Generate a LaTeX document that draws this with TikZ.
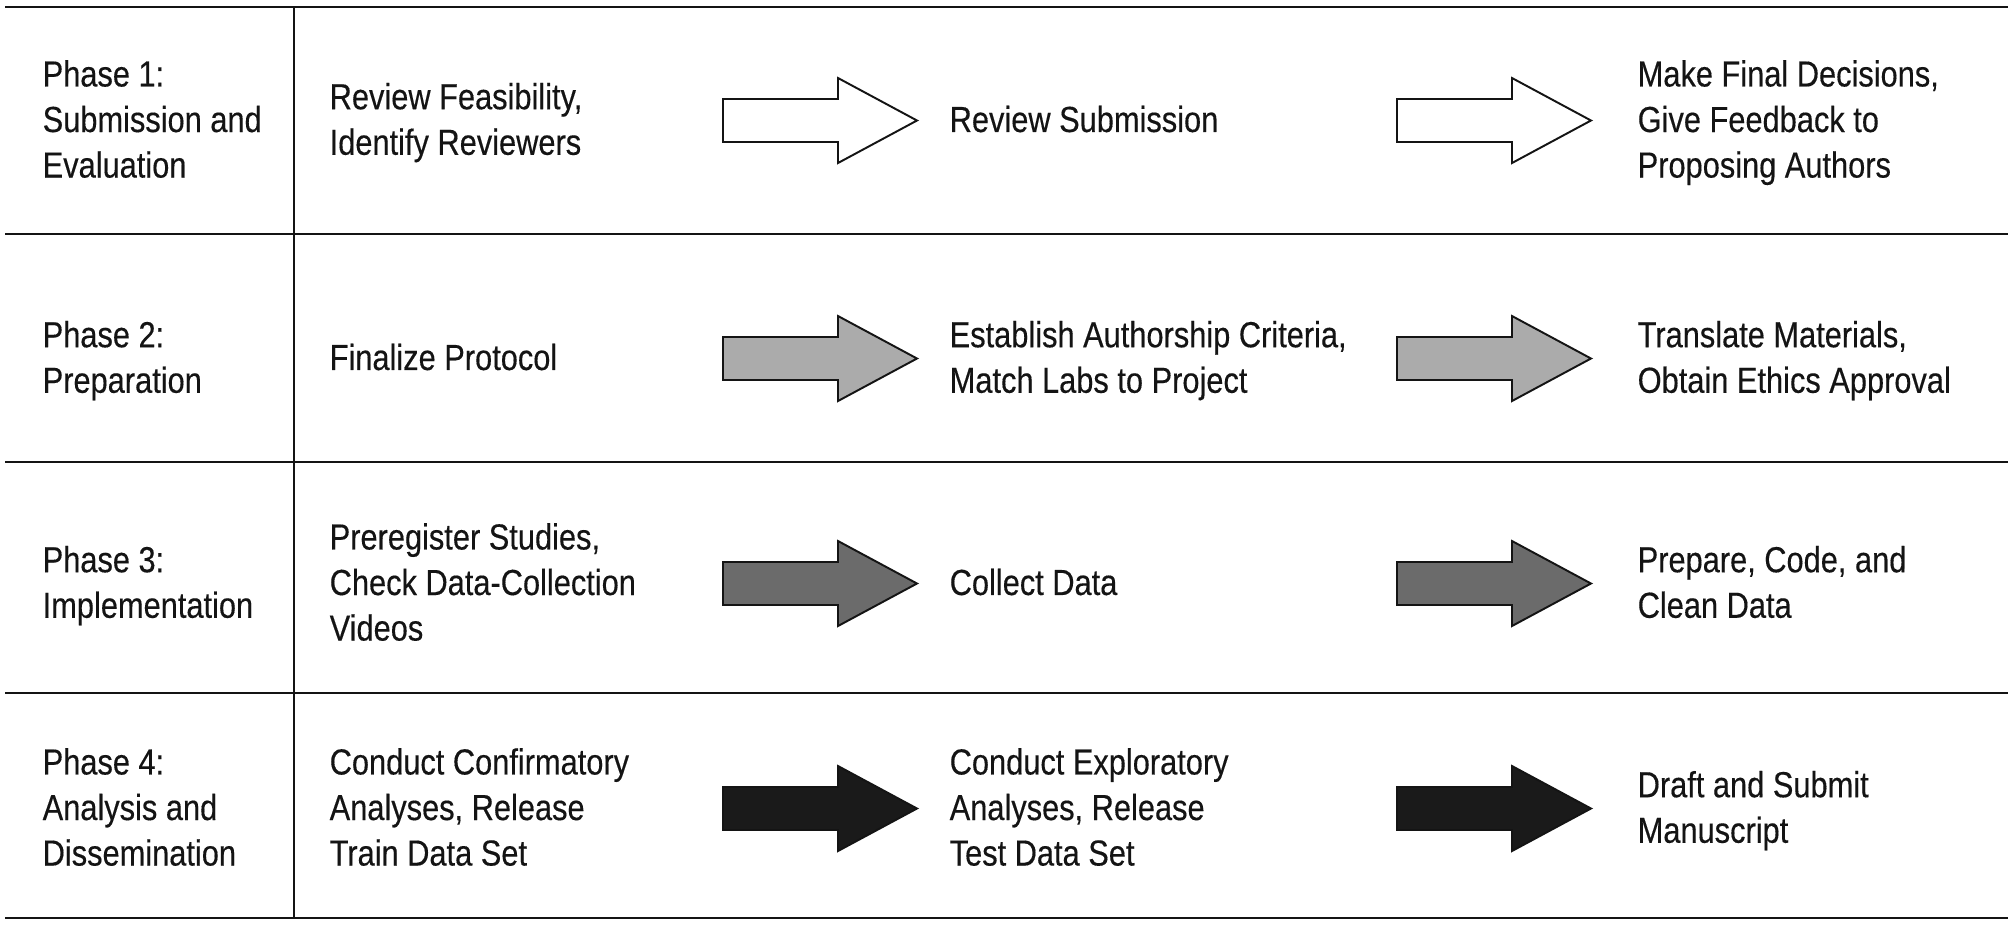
\documentclass[tikz,border=0pt]{standalone}
\usepackage{fontspec}
\setmainfont{Liberation Sans}[FakeStretch=0.85, FakeBold=0.3]
\definecolor{arrowA}{HTML}{FFFFFF}
\definecolor{arrowB}{HTML}{ABABAB}
\definecolor{arrowC}{HTML}{6B6B6B}
\definecolor{arrowD}{HTML}{1A1A1A}
\definecolor{ink}{HTML}{141414}
\begin{document}
\begin{tikzpicture}[x=0.01cm, y=-0.01cm,
  rule/.style={line width=0.8pt, draw=ink},
  colrule/.style={line width=0.6pt, draw=ink},
  label/.style={anchor=north west, align=left, inner sep=0pt,
    font=\fontsize{10.3}{12.95}\selectfont, text=ink},
  arrowline/.style={line width=0.55pt, draw=ink, line join=miter},
  pics/blockarrow/.style={code={
    \draw[arrowline, fill=#1] (0,-21.5) -- (115,-21.5) -- (115,-42.5)
      -- (194,0) -- (115,42.5) -- (115,21.5) -- (0,21.5) -- cycle;}}
]
\fill[white] (0,0) rectangle (2011,926);
\useasboundingbox (0,0) rectangle (2011,926);

% table rules
\draw[rule] (5,7) -- (2008,7);
\draw[rule] (5,234) -- (2008,234);
\draw[rule] (5,462) -- (2008,462);
\draw[rule] (5,693) -- (2008,693);
\draw[rule] (5,918) -- (2008,918);
\draw[colrule] (294,7) -- (294,918);

% Phase 1
\node[label] (p1) at (42,59.5) {Phase 1:\\Submission and\\Evaluation};
\node[label] (a1) at (329,82.25) {Review Feasibility,\\Identify Reviewers};
\node[label] (b1) at (949,105) {Review Submission};
\node[label] (c1) at (1637,59.5) {Make Final Decisions,\\Give Feedback to\\Proposing Authors};
\pic at (723,120.5) {blockarrow=arrowA};
\pic at (1397,120.5) {blockarrow=arrowA};

% Phase 2
\node[label] (p2) at (42,320.25) {Phase 2:\\Preparation};
\node[label] (a2) at (329,343) {Finalize Protocol};
\node[label] (b2) at (949,320.25) {Establish Authorship Criteria,\\Match Labs to Project};
\node[label] (c2) at (1637,320.25) {Translate Materials,\\Obtain Ethics Approval};
\pic at (723,358.5) {blockarrow=arrowB};
\pic at (1397,358.5) {blockarrow=arrowB};

% Phase 3
\node[label] (p3) at (42,545.25) {Phase 3:\\Implementation};
\node[label] (a3) at (329,522.5) {Preregister Studies,\\Check Data-Collection\\Videos};
\node[label] (b3) at (949,568) {Collect Data};
\node[label] (c3) at (1637,545.25) {Prepare, Code, and\\Clean Data};
\pic at (723,583.5) {blockarrow=arrowC};
\pic at (1397,583.5) {blockarrow=arrowC};

% Phase 4
\node[label] (p4) at (42,747.5) {Phase 4:\\Analysis and\\Dissemination};
\node[label] (a4) at (329,747.5) {Conduct Confirmatory\\Analyses, Release\\Train Data Set};
\node[label] (b4) at (949,747.5) {Conduct Exploratory\\Analyses, Release\\Test Data Set};
\node[label] (c4) at (1637,770.25) {Draft and Submit\\Manuscript};
\pic at (723,808.5) {blockarrow=arrowD};
\pic at (1397,808.5) {blockarrow=arrowD};
\end{tikzpicture}
\end{document}
